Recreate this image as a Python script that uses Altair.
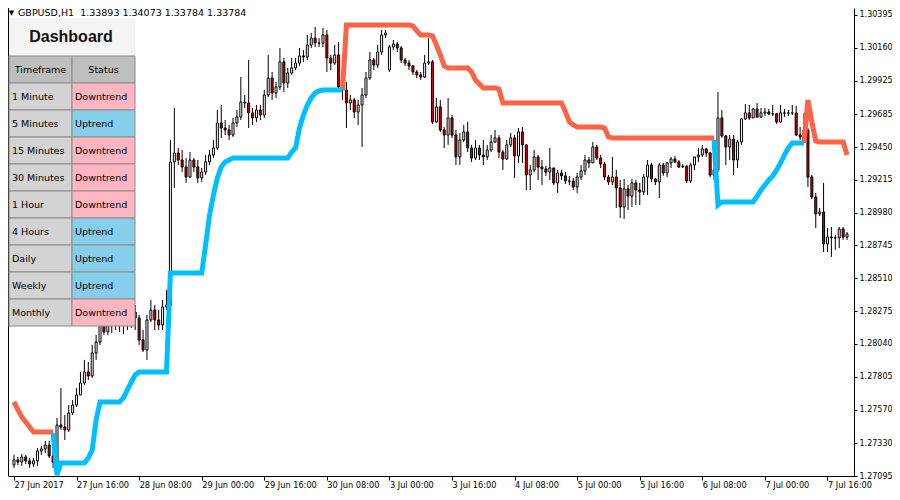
import altair as alt
import numpy as np
import pandas as pd

# ---------------- data (GBPUSD H1) ----------------
closes = [
    1.27210, 1.27195, 1.27231, 1.27203, 1.27181, 1.27203, 1.27274, 1.27289, 1.27317, 1.27238,
    1.27195, 1.27460, 1.27446, 1.27425, 1.27546, 1.27603, 1.27675, 1.27761, 1.27840, 1.27811,
    1.27976, 1.28054, 1.28190, 1.28126, 1.28226, 1.28176, 1.28248, 1.28198, 1.28269, 1.28212,
    1.28269, 1.28226, 1.28069, 1.27997, 1.28212, 1.28283, 1.28212, 1.28176, 1.28305, 1.28319,
    1.29343, 1.29407, 1.29357, 1.29307, 1.29235, 1.29357, 1.29307, 1.29228, 1.29271, 1.29343,
    1.29393, 1.29443, 1.29622, 1.29586, 1.29572, 1.29536, 1.29622, 1.29665, 1.29772, 1.29765,
    1.29694, 1.29658, 1.29715, 1.29679, 1.29822, 1.29944, 1.29837, 1.29880, 1.30059, 1.29908,
    1.29980, 1.30016, 1.30051, 1.30102, 1.30094, 1.30180, 1.30230, 1.30195, 1.30193, 1.30252,
    1.30087, 1.30051, 1.30109, 1.29880, 1.29858, 1.29765, 1.29787, 1.29701, 1.29751, 1.29822,
    1.29944, 1.30073, 1.30037, 1.30130, 1.30252, 1.30266, 1.30166, 1.30187, 1.30159, 1.30073,
    1.30051, 1.30030, 1.29987, 1.29966, 1.29951, 1.30051, 1.30059, 1.29629, 1.29737, 1.29572,
    1.29536, 1.29658, 1.29536, 1.29379, 1.29500, 1.29558, 1.29443, 1.29371, 1.29443, 1.29393,
    1.29379, 1.29429, 1.29486, 1.29515, 1.29414, 1.29364, 1.29465, 1.29515, 1.29386, 1.29558,
    1.29465, 1.29250, 1.29286, 1.29379, 1.29307, 1.29293, 1.29271, 1.29300, 1.29193, 1.29264,
    1.29243, 1.29207, 1.29205, 1.29164, 1.29235, 1.29278, 1.29357, 1.29336, 1.29450, 1.29371,
    1.29328, 1.29235, 1.29200, 1.29235, 1.29157, 1.29021, 1.29150, 1.29099, 1.29193, 1.29142,
    1.29128, 1.29235, 1.29321, 1.29221, 1.29200, 1.29321, 1.29264, 1.29336, 1.29364, 1.29343,
    1.29307, 1.29312, 1.29207, 1.29321, 1.29379, 1.29393, 1.29436, 1.29407, 1.29250, 1.29286,
    1.29658, 1.29529, 1.29450, 1.29507, 1.29357, 1.29486, 1.29651, 1.29694, 1.29658, 1.29722,
    1.29665, 1.29694, 1.29701, 1.29686, 1.29688, 1.29629, 1.29694, 1.29692, 1.29694, 1.29693,
    1.29536, 1.29522, 1.29572, 1.29235, 1.29092, 1.28971, 1.28985, 1.28756, 1.28806, 1.28799,
    1.28800, 1.28863, 1.28806, 1.28827,
]
highs = [
    1.27246, 1.27231, 1.27253, 1.27246, 1.27224, 1.27224, 1.27296, 1.27310, 1.27346, 1.27346,
    1.27281, 1.27510, 1.27725, 1.27532, 1.27603, 1.27639, 1.27725, 1.27840, 1.27926, 1.27911,
    1.28033, 1.28105, 1.28226, 1.28226, 1.28283, 1.28269, 1.28319, 1.28298, 1.28355, 1.28319,
    1.28355, 1.28319, 1.28248, 1.28140, 1.28248, 1.28355, 1.28319, 1.28283, 1.28355, 1.28427,
    1.29500, 1.29729, 1.29443, 1.29429, 1.29371, 1.29414, 1.29371, 1.29357, 1.29300, 1.29393,
    1.29429, 1.29500, 1.29715, 1.29751, 1.29643, 1.29608, 1.29658, 1.29715, 1.29951, 1.29822,
    1.30073, 1.29729, 1.29751, 1.29751, 1.29858, 1.30109, 1.29987, 1.29915, 1.30159, 1.30087,
    1.30016, 1.30087, 1.30087, 1.30159, 1.30145, 1.30252, 1.30266, 1.30309, 1.30230, 1.30302,
    1.30288, 1.30109, 1.30180, 1.30202, 1.29930, 1.29915, 1.29822, 1.29801, 1.29787, 1.29873,
    1.29987, 1.30130, 1.30087, 1.30180, 1.30288, 1.30288, 1.30180, 1.30216, 1.30202, 1.30173,
    1.30087, 1.30073, 1.30037, 1.30001, 1.29987, 1.30109, 1.30230, 1.30073, 1.29801, 1.29787,
    1.29593, 1.29801, 1.29679, 1.29572, 1.29550, 1.29608, 1.29629, 1.29465, 1.29500, 1.29465,
    1.29500, 1.29465, 1.29536, 1.29572, 1.29536, 1.29429, 1.29500, 1.29550, 1.29536, 1.29586,
    1.29593, 1.29472, 1.29321, 1.29429, 1.29393, 1.29357, 1.29314, 1.29443, 1.29300, 1.29286,
    1.29286, 1.29271, 1.29243, 1.29228, 1.29264, 1.29321, 1.29393, 1.29379, 1.29486, 1.29465,
    1.29393, 1.29343, 1.29250, 1.29379, 1.29286, 1.29214, 1.29221, 1.29178, 1.29221, 1.29214,
    1.29193, 1.29257, 1.29357, 1.29336, 1.29228, 1.29336, 1.29336, 1.29343, 1.29379, 1.29386,
    1.29357, 1.29328, 1.29321, 1.29336, 1.29379, 1.29443, 1.29465, 1.29443, 1.29414, 1.29357,
    1.29844, 1.29715, 1.29536, 1.29536, 1.29536, 1.29500, 1.29658, 1.29758, 1.29751, 1.29729,
    1.29765, 1.29729, 1.29729, 1.29722, 1.29751, 1.29694, 1.29751, 1.29722, 1.29715, 1.29751,
    1.29744, 1.29593, 1.29694, 1.29586, 1.29250, 1.29121, 1.29014, 1.29193, 1.28870, 1.28878,
    1.28820, 1.28878, 1.28878, 1.28842,
]
lows = [
    1.27153, 1.27174, 1.27167, 1.27181, 1.27153, 1.27160, 1.27167, 1.27246, 1.27260, 1.27224,
    1.27153, 1.27188, 1.27425, 1.27353, 1.27410, 1.27532, 1.27589, 1.27675, 1.27747, 1.27782,
    1.27797, 1.27926, 1.28033, 1.28105, 1.28105, 1.28119, 1.28140, 1.28126, 1.28112, 1.28140,
    1.28155, 1.28140, 1.28033, 1.27983, 1.27926, 1.28198, 1.28140, 1.28140, 1.28140, 1.28283,
    1.28283, 1.29157, 1.29321, 1.29271, 1.29193, 1.29228, 1.29271, 1.29193, 1.29200, 1.29250,
    1.29321, 1.29371, 1.29429, 1.29515, 1.29536, 1.29500, 1.29522, 1.29593, 1.29643, 1.29729,
    1.29586, 1.29608, 1.29629, 1.29643, 1.29658, 1.29808, 1.29787, 1.29801, 1.29858, 1.29844,
    1.29873, 1.29966, 1.30001, 1.30030, 1.30059, 1.30073, 1.30159, 1.30166, 1.30166, 1.30166,
    1.29987, 1.30001, 1.30037, 1.29844, 1.29787, 1.29586, 1.29715, 1.29658, 1.29608, 1.29450,
    1.29801, 1.29930, 1.30001, 1.30016, 1.30109, 1.30230, 1.29987, 1.30145, 1.30130, 1.30051,
    1.30030, 1.30001, 1.29966, 1.29944, 1.29930, 1.29944, 1.30037, 1.29615, 1.29622, 1.29558,
    1.29443, 1.29465, 1.29515, 1.29321, 1.29321, 1.29486, 1.29414, 1.29343, 1.29357, 1.29357,
    1.29321, 1.29357, 1.29414, 1.29479, 1.29371, 1.29286, 1.29357, 1.29450, 1.29228, 1.29336,
    1.29336, 1.29142, 1.29142, 1.29271, 1.29214, 1.29178, 1.29243, 1.29214, 1.29178, 1.29121,
    1.29214, 1.29185, 1.29178, 1.29142, 1.29121, 1.29214, 1.29250, 1.29300, 1.29336, 1.29357,
    1.29300, 1.29214, 1.29178, 1.29178, 1.29014, 1.28942, 1.28935, 1.28999, 1.29021, 1.29035,
    1.29035, 1.29107, 1.29107, 1.29200, 1.29178, 1.29085, 1.29243, 1.29235, 1.29300, 1.29336,
    1.29300, 1.29300, 1.29193, 1.29193, 1.29286, 1.29343, 1.29379, 1.29379, 1.29235, 1.29214,
    1.29271, 1.29515, 1.29321, 1.29357, 1.29250, 1.29300, 1.29465, 1.29643, 1.29643, 1.29658,
    1.29658, 1.29658, 1.29672, 1.29679, 1.29672, 1.29615, 1.29622, 1.29665, 1.29672, 1.29679,
    1.29529, 1.29500, 1.29500, 1.29164, 1.29078, 1.28870, 1.28956, 1.28699, 1.28699, 1.28663,
    1.28713, 1.28727, 1.28785, 1.28785,
]
first_open = 1.27174
gap_open_bar = 96          # Monday open (3 Jul 00:00) gapped away from Friday close
gap_open_price = 1.30001

N_ = None
red_stop = [
    1.27625, 1.27568, 1.27518, 1.27482, 1.27446, 1.27410, 1.27410, 1.27410, 1.27410, 1.27410,
    1.27410, N_, N_, N_, N_, N_, N_, N_, N_, N_,
    N_, N_, N_, N_, N_, N_, N_, N_, N_, N_,
    N_, N_, N_, N_, N_, N_, N_, N_, N_, N_,
    N_, N_, N_, N_, N_, N_, N_, N_, N_, N_,
    N_, N_, N_, N_, N_, N_, N_, N_, N_, N_,
    N_, N_, N_, N_, N_, N_, N_, N_, N_, N_,
    N_, N_, N_, N_, N_, N_, N_, N_, N_, N_,
    N_, N_, N_, N_, 1.29858, 1.30323, 1.30323, 1.30323, 1.30323, 1.30323,
    1.30323, 1.30323, 1.30323, 1.30323, 1.30323, 1.30323, 1.30323, 1.30323, 1.30323, 1.30323,
    1.30323, 1.30323, 1.30316, 1.30281, 1.30252, 1.30252, 1.30252, 1.30245, 1.30180, 1.30109,
    1.30030, 1.30016, 1.30016, 1.30016, 1.30016, 1.30016, 1.30016, 1.29987, 1.29930, 1.29901,
    1.29873, 1.29873, 1.29873, 1.29873, 1.29865, 1.29765, 1.29765, 1.29765, 1.29765, 1.29765,
    1.29765, 1.29765, 1.29765, 1.29765, 1.29765, 1.29765, 1.29765, 1.29765, 1.29765, 1.29765,
    1.29765, 1.29701, 1.29629, 1.29608, 1.29593, 1.29593, 1.29593, 1.29593, 1.29593, 1.29593,
    1.29593, 1.29586, 1.29522, 1.29515, 1.29515, 1.29515, 1.29515, 1.29515, 1.29515, 1.29515,
    1.29515, 1.29515, 1.29515, 1.29515, 1.29515, 1.29515, 1.29515, 1.29515, 1.29515, 1.29515,
    1.29515, 1.29515, 1.29515, 1.29515, 1.29515, 1.29515, 1.29515, 1.29515, 1.29515, 1.29515,
    N_, N_, N_, N_, N_, N_, N_, N_, N_, N_,
    N_, N_, N_, N_, N_, N_, N_, N_, N_, N_,
    N_, N_, 1.29479, 1.29787, 1.29629, 1.29493, 1.29486, 1.29486, 1.29486, 1.29486,
    1.29486, 1.29486, 1.29486, 1.29393,
]
blue_stop = [
    N_, N_, N_, N_, N_, N_, N_, N_, N_, N_,
    1.27403, 1.27102, 1.27188, 1.27188, 1.27188, 1.27188, 1.27188, 1.27188, 1.27188, 1.27224,
    1.27281, 1.27496, 1.27625, 1.27625, 1.27625, 1.27625, 1.27625, 1.27625, 1.27654, 1.27711,
    1.27768, 1.27818, 1.27840, 1.27840, 1.27840, 1.27840, 1.27840, 1.27840, 1.27840, 1.27840,
    1.28548, 1.28548, 1.28548, 1.28548, 1.28548, 1.28548, 1.28548, 1.28548, 1.28548, 1.28749,
    1.28963, 1.29107, 1.29228, 1.29307, 1.29343, 1.29357, 1.29371, 1.29371, 1.29371, 1.29371,
    1.29371, 1.29371, 1.29371, 1.29371, 1.29371, 1.29371, 1.29371, 1.29371, 1.29371, 1.29371,
    1.29371, 1.29414, 1.29443, 1.29586, 1.29679, 1.29751, 1.29801, 1.29837, 1.29851, 1.29858,
    1.29858, 1.29858, 1.29858, 1.29858, 1.29858, N_, N_, N_, N_, N_,
    N_, N_, N_, N_, N_, N_, N_, N_, N_, N_,
    N_, N_, N_, N_, N_, N_, N_, N_, N_, N_,
    N_, N_, N_, N_, N_, N_, N_, N_, N_, N_,
    N_, N_, N_, N_, N_, N_, N_, N_, N_, N_,
    N_, N_, N_, N_, N_, N_, N_, N_, N_, N_,
    N_, N_, N_, N_, N_, N_, N_, N_, N_, N_,
    N_, N_, N_, N_, N_, N_, N_, N_, N_, N_,
    N_, N_, N_, N_, N_, N_, N_, N_, N_, N_,
    N_, N_, N_, N_, N_, N_, N_, N_, N_, 1.29500,
    1.29035, 1.29057, 1.29057, 1.29057, 1.29057, 1.29057, 1.29057, 1.29057, 1.29057, 1.29057,
    1.29099, 1.29142, 1.29178, 1.29214, 1.29243, 1.29286, 1.29336, 1.29393, 1.29443, 1.29479,
    1.29479, 1.29479, 1.29479, N_, N_, N_, N_, N_, N_, N_,
    N_, N_, N_, N_,
]
x_labels = ["27 Jun 2017", "27 Jun 16:00", "28 Jun 08:00", "29 Jun 00:00", "29 Jun 16:00",
            "30 Jun 08:00", "3 Jul 00:00", "3 Jul 16:00", "4 Jul 08:00", "5 Jul 00:00",
            "5 Jul 16:00", "6 Jul 08:00", "7 Jul 00:00", "7 Jul 16:00"]
bars_per_label = 16
price_ticks = [1.30395, 1.30160, 1.29925, 1.29685, 1.29450, 1.29215, 1.28980, 1.28745,
               1.28510, 1.28275, 1.28040, 1.27805, 1.27570, 1.27330, 1.27095]
timeframes = ["1 Minute", "5 Minutes", "15 Minutes", "30 Minutes", "1 Hour",
              "4 Hours", "Daily", "Weekly", "Monthly"]
statuses = ["Downtrend", "Uptrend", "Downtrend", "Downtrend", "Downtrend",
            "Uptrend", "Uptrend", "Uptrend", "Downtrend"]
header_text = "GBPUSD,H1\u00a0\u00a01.33893 1.34073 1.33784 1.33784"

# ---------------- layout / style ----------------
W, H = 846, 468
PAD_R, PAD_B = 38, 16
FONT = "DejaVu Sans"
UP_FILL, DOWN_FILL = "#FFFFFF", "#DD0000"
RED_LINE, BLUE_LINE = "#FF6347", "#00BFFF"

n = len(closes)
opens = [first_open] + closes[:-1]
opens[gap_open_bar] = gap_open_price
candles = pd.DataFrame({"i": range(n), "open": opens, "close": closes,
                        "high": highs, "low": lows})
candles["fillc"] = np.where(candles["close"] >= candles["open"], UP_FILL, DOWN_FILL)

rows = []
for name, vals, col in (("down", red_stop, RED_LINE), ("up", blue_stop, BLUE_LINE)):
    seg, inside = 0, False
    for i, v in enumerate(vals):
        if v is None:
            inside = False
            continue
        if not inside:
            seg += 1
            inside = True
        rows.append({"i": i, "v": v, "seg": f"{name}{seg}", "col": col})
lines = pd.DataFrame(rows)

xs = alt.Scale(domain=[-0.25, 213.5], nice=False, zero=False)
ys = alt.Scale(domain=[1.27095, 1.30445], nice=False, zero=False)
labels_js = "[" + ",".join(f"'{s}'" for s in x_labels) + "]"
x_axis = alt.Axis(values=list(range(0, bars_per_label * len(x_labels), bars_per_label)),
                  labelExpr=f"{labels_js}[round(datum.value/{bars_per_label})]",
                  orient="bottom", grid=False, domainColor="black", tickColor="black",
                  tickSize=4, labelAlign="left", labelBaseline="top", labelPadding=1,
                  labelFont=FONT, labelFontSize=8.2, labelColor="black",
                  labelFlush=False, labelOverlap=False, title=None)
y_axis = alt.Axis(values=price_ticks, format=".5f", orient="right", grid=False,
                  domainColor="black", tickColor="black", tickSize=3, labelPadding=2,
                  labelFont=FONT, labelFontSize=8, labelColor="black",
                  labelFlush=False, labelOverlap=False, title=None)

X = lambda f: alt.X(f, scale=xs, axis=x_axis)
Y = lambda f: alt.Y(f, scale=ys, axis=y_axis)

wicks = alt.Chart(candles).mark_rule(color="black", strokeWidth=1).encode(
    x=X("i:Q"), y=Y("low:Q"), y2="high:Q")
bodies = alt.Chart(candles).mark_bar(width=2, stroke="black", strokeWidth=1).encode(
    x=X("i:Q"), y=Y("open:Q"), y2="close:Q", fill=alt.Fill("fillc:N", scale=None))
stops = alt.Chart(lines).mark_line(strokeWidth=5).encode(
    x=X("i:Q"), y=Y("v:Q"), detail="seg:N", order="i:Q",
    stroke=alt.Stroke("col:N", scale=None))
one = pd.DataFrame({"t": [header_text]})
border = alt.Chart(one).mark_rule(color="black", strokeWidth=1).encode(
    x=alt.value(0.5), y=alt.value(0), y2=alt.value(H))
header = alt.Chart(one).mark_text(align="left", baseline="middle", font=FONT,
                                  fontSize=9.5, color="black").encode(
    text="t:N", x=alt.value(10), y=alt.value(5))
tri = alt.Chart(pd.DataFrame({"t": ["\u25bc"]})).mark_text(
    align="center", baseline="middle", font=FONT, fontSize=7, color="black").encode(
    text="t:N", x=alt.value(3.5), y=alt.value(5))

main = alt.layer(wicks, bodies, stops, border, header, tri)

# ---------------- dashboard panel ----------------
cells = [{"r": 0, "c": 0, "label": "Timeframe", "fill": "#BEBEBE"},
         {"r": 0, "c": 1, "label": "Status", "fill": "#BEBEBE"}]
for k, (tf, st) in enumerate(zip(timeframes, statuses), start=1):
    cells.append({"r": k, "c": 0, "label": tf, "fill": "#D3D3D3"})
    cells.append({"r": k, "c": 1, "label": st,
                  "fill": "#FFB6C1" if st == "Downtrend" else "#87CEEB"})
cells = pd.DataFrame(cells)

cx = alt.Scale(domain=[0, 1], range=[1, 127], paddingInner=0, paddingOuter=0)
cy = alt.Scale(domain=list(range(10)), range=[48, 318], paddingInner=0, paddingOuter=0)

title_box = alt.Chart(pd.DataFrame({"t": ["Dashboard"]})).mark_rect(fill="#F4F4F4").encode(
    x=alt.value(1), x2=alt.value(127), y=alt.value(10), y2=alt.value(48))
title_txt = alt.Chart(pd.DataFrame({"t": ["Dashboard"]})).mark_text(
    font="Liberation Sans", fontSize=16, fontWeight="bold", color="#111111",
    align="center", baseline="middle").encode(
    text="t:N", x=alt.value(63), y=alt.value(29))
cell_rects = alt.Chart(cells).mark_rect(stroke="#8C8C8C", strokeWidth=1).encode(
    x=alt.X("c:O", scale=cx, axis=None), y=alt.Y("r:O", scale=cy, axis=None),
    fill=alt.Fill("fill:N", scale=None))
head_txt = alt.Chart(cells[cells.r == 0]).mark_text(
    font=FONT, fontSize=9.5, color="black", align="center", baseline="middle").encode(
    x=alt.X("c:O", scale=cx, axis=None, bandPosition=0.5),
    y=alt.Y("r:O", scale=cy, axis=None, bandPosition=0.5), text="label:N")
body_txt = alt.Chart(cells[cells.r > 0]).mark_text(
    font=FONT, fontSize=9.5, color="black", align="left", baseline="middle", dx=3).encode(
    x=alt.X("c:O", scale=cx, axis=None, bandPosition=0),
    y=alt.Y("r:O", scale=cy, axis=None, bandPosition=0.5), text="label:N")

dash = alt.layer(title_box, title_txt, cell_rects, head_txt, body_txt)

chart = alt.layer(main, dash).resolve_scale(x="independent", y="independent").properties(
    width=W, height=H,
    autosize=alt.AutoSizeParams(type="none"),
    padding={"left": 0, "top": 0, "right": PAD_R, "bottom": PAD_B},
    background="white",
).configure_view(stroke=None)

chart.save("out.html", embed_options={"renderer": "svg", "actions": False})
